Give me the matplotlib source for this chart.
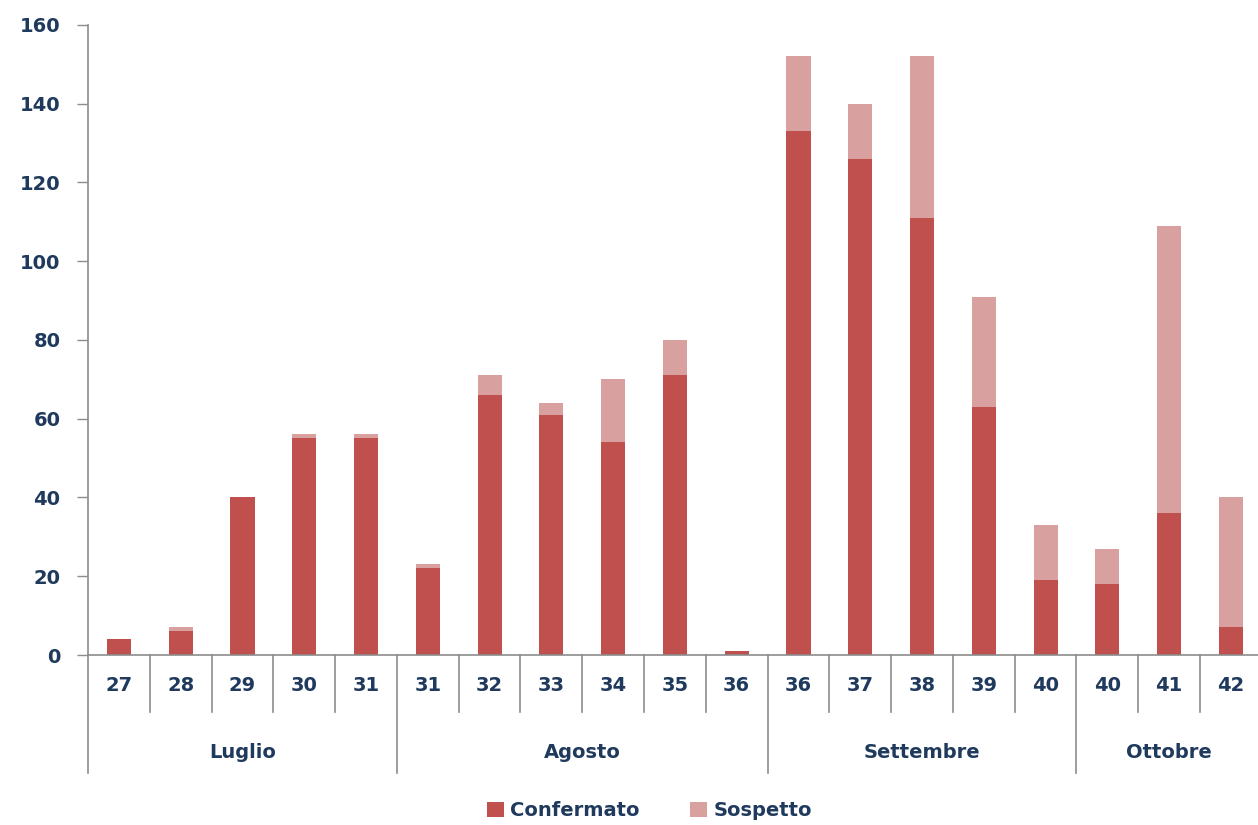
import matplotlib
matplotlib.use("Agg")
import matplotlib.pyplot as plt
import matplotlib.transforms as mtransforms

weeks = ["27", "28", "29", "30", "31",
         "31", "32", "33", "34", "35", "36",
         "36", "37", "38", "39", "40",
         "40", "41", "42"]
months = ["Luglio", "Agosto", "Settembre", "Ottobre"]
month_sizes = [5, 6, 5, 3]
confermato = [4, 6, 40, 55, 55,
              22, 66, 61, 54, 71, 1,
              133, 126, 111, 63, 19,
              18, 36, 7]
sospetto = [0, 1, 0, 1, 1,
            1, 5, 3, 16, 9, 0,
            19, 14, 41, 28, 14,
            9, 73, 33]

DARK, LIGHT = "#C0504D", "#D9A0A0"
TXT, AXC = "#1F3A5C", "#8C8C8C"
FS = 14

plt.rcParams["font.family"] = ["DejaVu Sans"]

fig = plt.figure(figsize=(12.58, 8.25), dpi=100)
ax = fig.add_axes([0.070, 0.206, 0.933, 0.764])

n = len(weeks)
x = list(range(n))
ax.bar(x, confermato, 0.39, color=DARK, label="Confermato", zorder=2)
ax.bar(x, sospetto, 0.39, bottom=confermato, color=LIGHT, label="Sospetto", zorder=2)

ax.set_xlim(-0.5, n - 0.5)
ax.set_ylim(0, 160)
ax.set_yticks(range(0, 161, 20))
ax.tick_params(axis="y", direction="out", length=8, width=1, color=AXC,
               labelsize=FS, labelcolor=TXT, pad=12)
for lab in ax.get_yticklabels():
    lab.set_fontweight("bold")
ax.set_xticks([])
for s in ("top", "right"):
    ax.spines[s].set_visible(False)
for s in ("left", "bottom"):
    ax.spines[s].set_color(AXC)
    ax.spines[s].set_linewidth(1.2)

# multi-level category axis
trans = mtransforms.blended_transform_factory(ax.transData, ax.transAxes)
for i, w in enumerate(weeks):
    ax.text(i, -0.048, w, transform=trans, ha="center", va="center",
            fontsize=FS, fontweight="bold", color=TXT)
start = 0
month_edges = {-0.5}
for m, sz in zip(months, month_sizes):
    center = start + (sz - 1) / 2
    ax.text(center, -0.154, m, transform=trans, ha="center", va="center",
            fontsize=FS, fontweight="bold", color=TXT)
    start += sz
    month_edges.add(start - 0.5)
for k in range(n + 1):
    xe = k - 0.5
    y1 = -0.187 if xe in month_edges else -0.0905
    ax.plot([xe, xe], [0, y1], transform=trans, color=AXC, lw=1.2, clip_on=False)

leg = fig.legend(loc="center", bbox_to_anchor=(0.516, 0.017), ncol=2, frameon=False,
                 fontsize=FS, handlelength=0.9, handleheight=0.8, handletextpad=0.3,
                 columnspacing=2.6)
for t in leg.get_texts():
    t.set_color(TXT)
    t.set_fontweight("bold")

fig.savefig("out.png", dpi=100)
